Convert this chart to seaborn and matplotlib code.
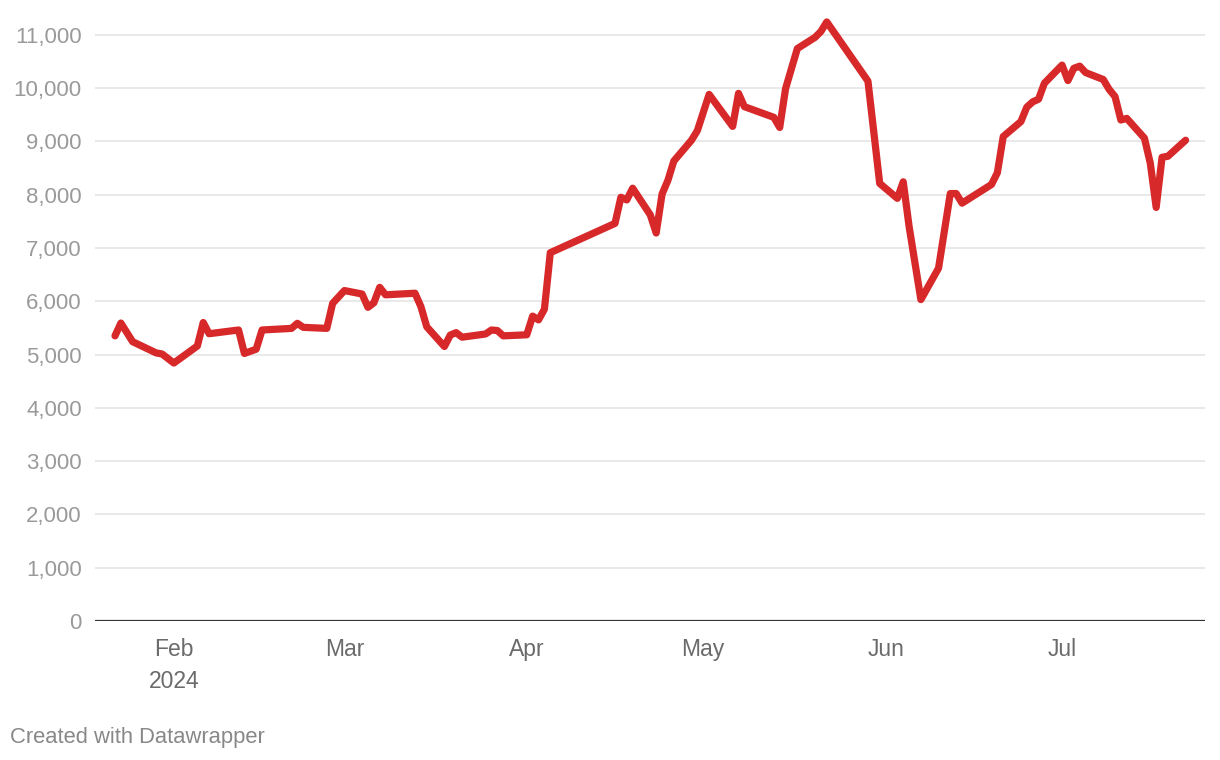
import numpy as np
import pandas as pd
import seaborn as sns
import matplotlib
matplotlib.use("Agg")
import matplotlib.pyplot as plt
from matplotlib.ticker import FuncFormatter

# data
dates = [
    "2024-01-22", "2024-01-23", "2024-01-25", "2024-01-29", "2024-01-30",
    "2024-02-01", "2024-02-05", "2024-02-06", "2024-02-07", "2024-02-12",
    "2024-02-13", "2024-02-15", "2024-02-16", "2024-02-21", "2024-02-22",
    "2024-02-23", "2024-02-27", "2024-02-28", "2024-03-01", "2024-03-04",
    "2024-03-05", "2024-03-06", "2024-03-07", "2024-03-08", "2024-03-13",
    "2024-03-14", "2024-03-15", "2024-03-18", "2024-03-19", "2024-03-20",
    "2024-03-21", "2024-03-25", "2024-03-26", "2024-03-27", "2024-03-28",
    "2024-04-01", "2024-04-02", "2024-04-03", "2024-04-04", "2024-04-05",
    "2024-04-16", "2024-04-17", "2024-04-18", "2024-04-19", "2024-04-22",
    "2024-04-23", "2024-04-24", "2024-04-25", "2024-04-26", "2024-04-29",
    "2024-04-30", "2024-05-02", "2024-05-06", "2024-05-07", "2024-05-08",
    "2024-05-13", "2024-05-14", "2024-05-15", "2024-05-17", "2024-05-20",
    "2024-05-21", "2024-05-22", "2024-05-29", "2024-05-31", "2024-06-03",
    "2024-06-04", "2024-06-05", "2024-06-07", "2024-06-10", "2024-06-12",
    "2024-06-13", "2024-06-14", "2024-06-19", "2024-06-20", "2024-06-21",
    "2024-06-24", "2024-06-25", "2024-06-26", "2024-06-27", "2024-06-28",
    "2024-07-01", "2024-07-02", "2024-07-03", "2024-07-04", "2024-07-05",
    "2024-07-08", "2024-07-09", "2024-07-10", "2024-07-11", "2024-07-12",
    "2024-07-15", "2024-07-16", "2024-07-17", "2024-07-18", "2024-07-19",
    "2024-07-22",
]
values = [
    5350, 5590, 5240, 5030, 5010,
    4840, 5160, 5600, 5390, 5460,
    5020, 5100, 5460, 5490, 5585,
    5510, 5490, 5960, 6200, 6135,
    5885, 5970, 6260, 6120, 6150,
    5900, 5520, 5150, 5365, 5410,
    5325, 5385, 5460, 5450, 5350,
    5370, 5720, 5650, 5850, 6910,
    7460, 7950, 7900, 8120, 7620,
    7280, 8010, 8270, 8630, 9020,
    9200, 9880, 9280, 9900, 9650,
    9450, 9260, 9990, 10740, 10950,
    11060, 11240, 10130, 8210, 7930,
    8240, 7400, 6030, 6620, 8020,
    8020, 7840, 8190, 8410, 9090,
    9370, 9640, 9740, 9790, 10090,
    10430, 10140, 10370, 10410, 10290,
    10160, 9975, 9840, 9400, 9430,
    9060, 8590, 7760, 8700, 8720,
    9020,
]
y_ticks = list(range(0, 11001, 1000))
month_ticks = ["2024-02-01", "2024-03-01", "2024-04-01", "2024-05-01", "2024-06-01", "2024-07-01"]
month_labels = ["Feb\n2024", "Mar", "Apr", "May", "Jun", "Jul"]

df = pd.DataFrame({"date": pd.to_datetime(dates), "value": values})

sns.set_theme(style="white")
plt.rcParams["font.family"] = ["Liberation Sans", "DejaVu Sans"]

fig = plt.figure(figsize=(12.2, 7.6), dpi=100)
ax = fig.add_axes([95 / 1220, 139 / 760, 1110 / 1220, 606 / 760])

for t in y_ticks[1:]:
    ax.axhline(t, color="#e3e3e3", lw=1.1, zorder=0)

sns.lineplot(data=df, x="date", y="value", ax=ax, color="#d7282a", lw=5.2,
             solid_joinstyle="round", solid_capstyle="round", zorder=3)

ax.axhline(0, color="#333333", lw=1.6, zorder=4)

feb1 = pd.Timestamp("2024-02-01")
ax.set_xlim(feb1 - pd.Timedelta(days=13.4), feb1 + pd.Timedelta(days=175.3))
ax.set_ylim(0, 11370)

ax.set_yticks(y_ticks)
ax.yaxis.set_major_formatter(FuncFormatter(lambda v, p: f"{int(v):,}"))
ax.set_xticks(pd.to_datetime(month_ticks))
ax.set_xticklabels(month_labels, linespacing=1.5)

ax.tick_params(axis="y", length=0, pad=9.5, labelsize=16, labelcolor="#9a9a9a")
ax.tick_params(axis="x", length=0, pad=12, labelsize=16.5, labelcolor="#6b6b6b")
for lab in ax.get_xticklabels():
    lab.set_verticalalignment("top")

ax.set_xlabel("")
ax.set_ylabel("")
for s in ax.spines.values():
    s.set_visible(False)

fig.text(10 / 1220, 1 - 737 / 760, "Created with Datawrapper", fontsize=15.8,
         color="#888888", va="center", ha="left")

fig.savefig("out.png", dpi=100)
